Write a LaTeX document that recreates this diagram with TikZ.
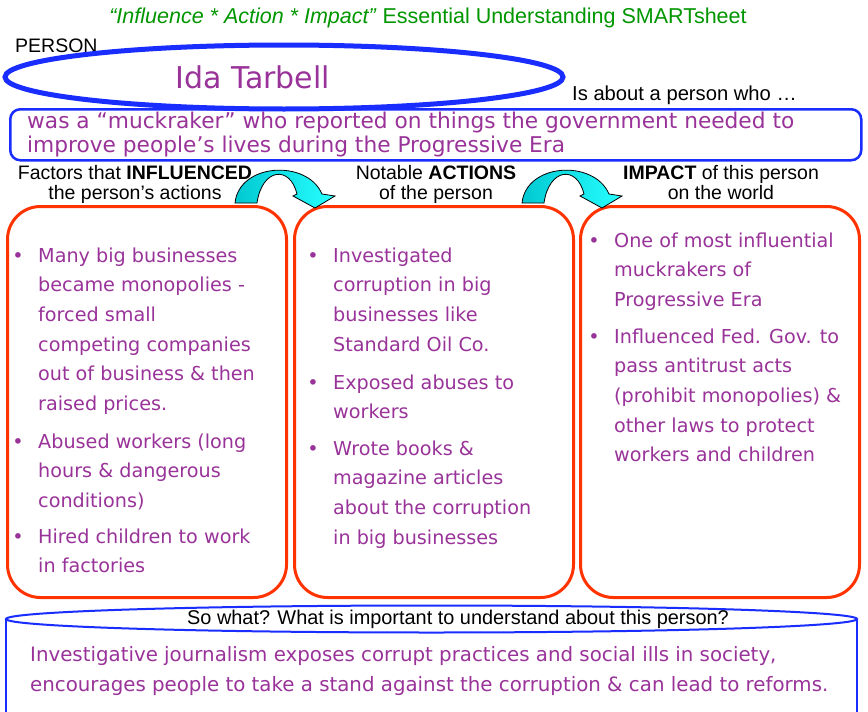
\documentclass[tikz,border=0pt]{standalone}
\usepackage{fontspec}
\setmainfont{Liberation Sans}
\newfontfamily\comic{DejaVu Sans}
\usetikzlibrary{shapes.geometric}
\definecolor{titlegreen}{RGB}{0,150,0}
\definecolor{tpurple}{RGB}{153,51,153}
\definecolor{bblue}{RGB}{25,45,255}
\definecolor{rred}{RGB}{255,51,0}
\definecolor{cyanA}{RGB}{0,200,210}
\definecolor{cyanB}{RGB}{40,255,255}
\tikzset{
  hdr/.style={font=\fontsize{19.5}{20}\selectfont, align=center, inner sep=0pt, anchor=base},
  plain/.style={font=\fontsize{19.5}{20}\selectfont, inner sep=0pt},
  ptext/.style={font=\comic\fontsize{19.2}{29.7}\selectfont, text=tpurple, align=left, inner sep=0pt, anchor=base west},
  bdot/.style={font=\comic\fontsize{19.2}{29.7}\selectfont, text=tpurple, inner sep=0pt, anchor=base},
  redbox/.style={draw=rred, line width=3pt, rounded corners=33pt, minimum width=279, minimum height=391, anchor=north west, inner sep=0pt},
  bendarrow/.pic={
    \path[draw=black, line width=0.8pt, left color=cyanA, right color=cyanB, line join=miter]
      (0,0) .. controls (4,-40) and (72,-44) .. (87,-9) -- (100,-7) -- (80,5) -- (58,-7) -- (62,-9)
      .. controls (55,-38) and (27,-35) .. (22,0) -- cycle;
  }
}
\begin{document}
\begin{tikzpicture}[x=1pt,y=-1pt]
\useasboundingbox (0,0) rectangle (868,712);
\fill[white] (0,0) rectangle (868,712);

% title
\node[font=\fontsize{21.5}{23}\selectfont, inner sep=0pt, text=titlegreen] (title) at (428,18) {\textit{“Influence * Action * Impact”} Essential Understanding SMARTsheet};

% person
\node[plain, anchor=base west] (personlbl) at (15,52) {PERSON};
\node[ellipse, draw=bblue, line width=5pt, minimum width=558, minimum height=64, inner sep=0pt] (person) at (284,77) {};
\node[font=\comic\fontsize{30}{32}\selectfont, text=tpurple, inner sep=0pt] (name) at (253,77) {Ida Tarbell};
\node[font=\fontsize{20.2}{22}\selectfont, inner sep=0pt, anchor=base west] (about) at (572,100) {Is about a person who  …};

% description box
\node[draw=bblue, line width=2.5pt, rounded corners=10pt, minimum width=851, minimum height=51, anchor=north west, inner sep=0pt] (desc) at (9,108) {};
\node[font=\comic\fontsize{21.7}{24}\selectfont, text=tpurple, align=left, inner sep=0pt, anchor=base west] (desctext) at (27,152)
  {was a “muckraker” who reported on things the government needed to\\improve people’s lives during the Progressive Era};

% headers (anchor = baseline of last line)
\node[hdr] (h1) at (135,199) {Factors that \textbf{INFLUENCED}\\the person’s actions};
\node[hdr] (h2) at (436,199) {Notable \textbf{ACTIONS}\\of the person};
\node[hdr] (h3) at (721,199) {\textbf{IMPACT} of this person\\on the world};

% boxes
\node[redbox] (b1) at (6,205) {};
\node[redbox] (b2) at (293,205) {};
\node[redbox] (b3) at (579,205) {};

% arrows
\pic at (235,203) {bendarrow};
\pic at (522,203) {bendarrow};

% box 1 (text anchors = baseline of last line)
\node[bdot] (d11) at (18,262) {•};
\node[ptext] (t11) at (38,410.5) {Many big businesses\\became monopolies -\\forced small\\competing companies\\out of business \& then\\raised prices.};
\node[bdot] (d12) at (18,448) {•};
\node[ptext] (t12) at (38,507.4) {Abused workers (long\\hours \& dangerous\\conditions)};
\node[bdot] (d13) at (18,543) {•};
\node[ptext] (t13) at (38,572.7) {Hired children to work\\in factories};

% box 2
\node[bdot] (d21) at (313,262) {•};
\node[ptext] (t21) at (333,351.1) {Investigated\\corruption in big\\businesses like\\Standard Oil Co.};
\node[bdot] (d22) at (313,389) {•};
\node[ptext] (t22) at (333,418.7) {Exposed abuses to\\workers};
\node[bdot] (d23) at (313,455) {•};
\node[ptext] (t23) at (333,544.1) {Wrote books \&\\magazine articles\\about the corruption\\in big businesses};

% box 3
\node[bdot] (d31) at (594,247) {•};
\node[ptext] (t31) at (614,306.4) {One of most influential\\muckrakers of\\Progressive Era};
\node[bdot] (d32) at (594,343) {•};
\node[ptext] (t32) at (614,461.8) {Influenced Fed. Gov. to\\pass antitrust acts\\(prohibit monopolies) \&\\other laws to protect\\workers and children};

% bottom cylinder
\draw[bblue, line width=2pt] (6,619) -- (6,715);
\draw[bblue, line width=2pt] (857,619) -- (857,715);
\node[ellipse, draw=bblue, line width=2pt, minimum width=851, minimum height=27, inner sep=0pt] (sowhat) at (431.5,619) {};
\node[font=\fontsize{19.9}{21}\selectfont, inner sep=0pt, anchor=base] (sowhattext) at (458,624) {So what? What is important to understand about this person?};
\node[font=\comic\fontsize{19.8}{30}\selectfont, text=tpurple, align=left, inner sep=0pt, anchor=base west] (concl) at (30,691)
  {Investigative journalism exposes corrupt practices and social ills in society,\\encourages people to take a stand against the corruption \& can lead to reforms.};
\end{tikzpicture}
\end{document}
